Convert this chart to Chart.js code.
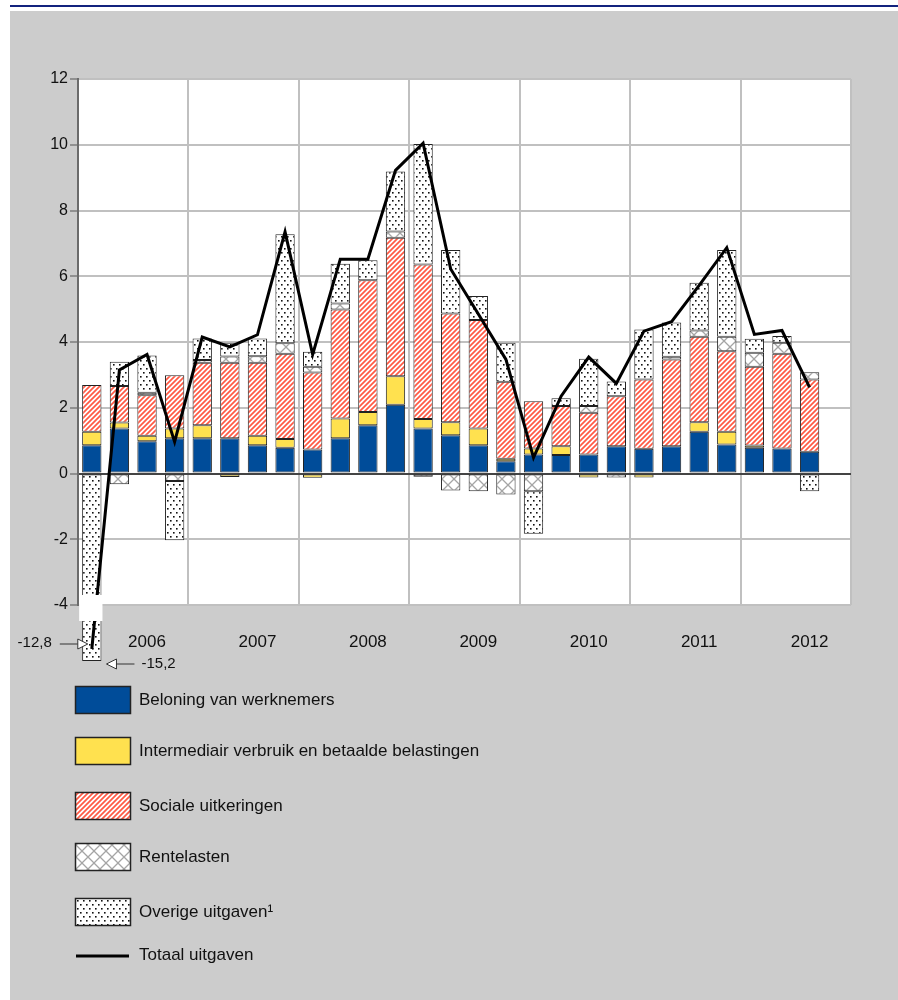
<!DOCTYPE html>
<html>
<head>
<meta charset="utf-8">
<title>Uitgaven overheid</title>
<script src="https://cdn.jsdelivr.net/npm/chart.js@4.4.0/dist/chart.umd.min.js"></script>
<style>
    html, body { margin: 0; padding: 0; background: #fff; }
    #topline { position: absolute; left: 10px; top: 5px; width: 888px; height: 2px; background: #13237e; }
    #panel { position: absolute; left: 10px; top: 11px; width: 888px; height: 989px; background: #cccccc; }
</style>
</head>
<body>
<div id="topline"></div>
<div id="panel"><canvas id="chart"></canvas></div>
<script>
// Years shown on the axis, one category per quarter
const years = ['2006', '2007', '2008', '2009', '2010', '2011', '2012'];
const quarters = years.flatMap(y => ['I', 'II', 'III', 'IV'].map(q => y + ' ' + q));

// Bijdragen (%-punt), 2006 I t/m 2012 III
const beloning = [0.86, 1.37, 0.98, 1.07, 1.07, 1.07, 0.86, 0.78, 0.73, 1.07, 1.47, 2.09, 1.37, 1.16,
    0.86, 0.37, 0.58, 0.56, 0.58, 0.83, 0.75, 0.83, 1.27, 0.88, 0.78, 0.76, 0.66, null];
const intermediair = [0.41, 0.18, 0.17, 0.30, 0.40, -0.11, 0.29, 0.27, -0.13, 0.60, 0.40, 0.87, 0.29, 0.40,
    0.51, 0.08, 0.18, 0.27, -0.12, 0, -0.12, 0, 0.29, 0.39, 0.07, 0, 0, null];
const sociaal = [1.42, 1.11, 1.23, 1.62, 1.90, 2.30, 2.22, 2.59, 2.34, 3.32, 4.01, 4.21, 4.70, 3.31,
    3.30, 2.34, 1.44, 1.22, 1.27, 1.52, 2.11, 2.64, 2.60, 2.45, 2.40, 2.88, 2.20, null];
const rente = [0, -0.33, 0.08, -0.23, 0.08, 0.19, 0.20, 0.32, 0.18, 0.18, 0, 0.19, -0.10, -0.52,
    -0.54, -0.64, -0.54, 0, 0.20, -0.12, 0, 0.08, 0.19, 0.44, 0.42, 0.34, 0.22, null];
const overig = [-15.2, 0.74, 1.13, -1.80, 0.66, 0.42, 0.54, 3.32, 0.45, 1.21, 0.61, 1.83, 3.66, 1.93,
    0.73, 1.19, -1.29, 0.24, 1.44, 0.45, 1.52, 1.04, 1.45, 2.64, 0.43, 0.20, -0.54, null];
const totaal = [-12.8, 3.15, 3.62, 0.96, 4.15, 3.85, 4.22, 7.35, 3.62, 6.52, 6.52, 9.22, 10.05, 6.22,
    4.85, 3.47, 0.48, 2.35, 3.54, 2.74, 4.33, 4.62, 5.72, 6.87, 4.23, 4.35, 2.62, null];

const yTicks = { min: -4, max: 12, step: 2 };
const squeeze = 5; // px per unit below the axis minimum (broken axis)

Chart.defaults.font.family = '"Liberation Sans", Arial, sans-serif';
Chart.defaults.color = '#111';

// Linear scale that keeps drawing (compressed) below its minimum
class BrokenScale extends Chart.LinearScale {
    static id = 'broken';
    static defaults = Chart.LinearScale.defaults;
    getPixelForValue(value) {
        if (value != null && value < this.min) {
            return super.getPixelForValue(this.min) + (this.min - value) * squeeze;
        }
        return super.getPixelForValue(value);
    }
}
Chart.register(BrokenScale);

function makePattern(w, h, draw) {
    const c = document.createElement('canvas');
    c.width = w; c.height = h;
    const g = c.getContext('2d');
    g.fillStyle = '#fff';
    g.fillRect(0, 0, w, h);
    draw(g);
    return g.createPattern(c, 'repeat');
}

const stripes = makePattern(5, 5, g => {
    g.strokeStyle = '#ff5a45';
    g.lineWidth = 1.7;
    g.beginPath();
    g.moveTo(-1, 6); g.lineTo(6, -1);
    g.moveTo(-3.5, 3.5); g.lineTo(3.5, -3.5);
    g.moveTo(1.5, 8.5); g.lineTo(8.5, 1.5);
    g.stroke();
});
const cross = makePattern(12, 12, g => {
    g.strokeStyle = '#a5a5a5';
    g.lineWidth = 1.3;
    g.beginPath();
    g.moveTo(0, 0); g.lineTo(12, 12);
    g.moveTo(12, 0); g.lineTo(0, 12);
    g.stroke();
});
const dots = makePattern(6, 8, g => {
    g.fillStyle = '#111';
    g.fillRect(1, 1, 1.6, 1.6);
    g.fillRect(4, 5, 1.6, 1.6);
});

function barSet(label, data, bg) {
    return {
        type: 'bar', label: label, data: data, backgroundColor: bg,
        borderColor: '#222', borderWidth: 1, borderSkipped: false,
        barPercentage: 0.7, categoryPercentage: 1, stack: 'parts', order: 1
    };
}

const datasets = [
    barSet('Beloning van werknemers', beloning, '#004c99'),
    barSet('Intermediair verbruik en betaalde belastingen', intermediair, '#ffe14f'),
    barSet('Sociale uitkeringen', sociaal, stripes),
    barSet('Rentelasten', rente, cross),
    Object.assign(barSet('Overige uitgaven\u00b9', overig, dots), { clip: false }),
    {
        type: 'line', label: 'Totaal uitgaven', data: totaal, borderColor: '#000', borderWidth: 3,
        pointRadius: 0, tension: 0, fill: false, stack: 'total', order: 0, clip: false
    }
];

// rows of the legend, in canvas pixels
const legendRows = [689, 740, 795, 846, 901, 944];

function arrow(ctx, tipX, y, dir) {
    // hollow triangle head with a tail, dir 1 = points right, -1 = points left
    const head = 10, tail = 18;
    ctx.beginPath();
    ctx.moveTo(tipX - dir * head, y);
    ctx.lineTo(tipX - dir * (head + tail), y);
    ctx.stroke();
    ctx.beginPath();
    ctx.moveTo(tipX, y);
    ctx.lineTo(tipX - dir * head, y - 5);
    ctx.lineTo(tipX - dir * head, y + 5);
    ctx.closePath();
    ctx.fillStyle = '#fff';
    ctx.fill();
    ctx.stroke();
}

const decorations = {
    id: 'decorations',
    beforeDraw(chart) {
        const a = chart.chartArea, ctx = chart.ctx;
        ctx.save();
        ctx.fillStyle = '#fff';
        ctx.fillRect(a.left, a.top, a.right - a.left, a.bottom - a.top);
        ctx.restore();
    },
    afterDatasetsDraw(chart) {
        const ctx = chart.ctx, y = chart.scales.y;
        const bar = chart.getDatasetMeta(4).data[0];
        const yMin = y.getPixelForValue(y.min);
        ctx.save();
        // gap marking the broken axis
        ctx.fillStyle = '#fff';
        ctx.fillRect(bar.x - bar.width / 2 - 3, yMin - 10, bar.width + 4, 26);

        ctx.strokeStyle = '#333';
        ctx.lineWidth = 1;
        ctx.font = '15px "Liberation Sans", Arial, sans-serif';
        ctx.textBaseline = 'middle';

        const yTot = y.getPixelForValue(totaal[0]) - 5;
        arrow(ctx, bar.x - 4, yTot, 1);
        ctx.fillStyle = '#111';
        ctx.textAlign = 'right';
        ctx.fillText(String(totaal[0]).replace('.', ','), bar.x - 40, yTot - 1);

        const yBar = y.getPixelForValue(overig[0]);
        arrow(ctx, bar.x + bar.width / 2 + 5, yBar + 3, -1);
        ctx.fillStyle = '#111';
        ctx.textAlign = 'left';
        ctx.fillText(String(overig[0]).replace('.', ','), bar.x + bar.width / 2 + 40, yBar + 3);
        ctx.restore();
    },
    afterDraw(chart) {
        const ctx = chart.ctx;
        ctx.save();
        ctx.font = '17px "Liberation Sans", Arial, sans-serif';
        ctx.textBaseline = 'middle';
        chart.data.datasets.forEach((ds, i) => {
            const cy = legendRows[i];
            if (ds.type === 'line') {
                ctx.strokeStyle = '#000';
                ctx.lineWidth = 3;
                ctx.beginPath();
                ctx.moveTo(66, cy + 1);
                ctx.lineTo(119, cy + 1);
                ctx.stroke();
            } else {
                ctx.fillStyle = ds.backgroundColor;
                ctx.fillRect(65.5, cy - 13.5, 55, 27);
                ctx.strokeStyle = '#222';
                ctx.lineWidth = 1.5;
                ctx.strokeRect(65.5, cy - 13.5, 55, 27);
            }
            ctx.fillStyle = '#111';
            ctx.textAlign = 'left';
            ctx.fillText(ds.label, 129, cy);
        });
        ctx.restore();
    }
};

new Chart(document.getElementById('chart'), {
    data: { labels: quarters, datasets: datasets },
    plugins: [decorations],
    options: {
        responsive: true,
        maintainAspectRatio: false,
        animation: false,
        layout: { padding: { left: 0, top: 68, right: 47, bottom: 335 } },
        plugins: { legend: { display: false }, tooltip: { enabled: false } },
        scales: {
            x: {
                stacked: true,
                offset: true,
                grid: {
                    offset: true, drawTicks: false, lineWidth: 2,
                    color: c => (c.index === undefined || c.index % 4 === 0) ? '#c0c0c0' : 'rgba(0,0,0,0)'
                },
                border: { display: false },
                ticks: {
                    autoSkip: false, maxRotation: 0, padding: 27,
                    font: { size: 17 },
                    callback: (v, i) => i % 4 === 2 ? years[Math.floor(i / 4)] : ''
                },
                afterFit: s => { s.height = 60; }
            },
            y: {
                type: 'broken',
                stacked: true,
                min: yTicks.min,
                max: yTicks.max,
                ticks: { stepSize: yTicks.step, padding: 2, font: { size: 16 } },
                grid: {
                    lineWidth: 2,
                    color: c => (c.tick && c.tick.value === 0) ? '#444' : '#c0c0c0',
                    tickColor: '#555', tickLength: 8, tickWidth: 1
                },
                border: { color: '#6b6b6b', width: 2 },
                afterFit: s => { s.width = 68; }
            }
        }
    }
});
</script>
</body>
</html>
